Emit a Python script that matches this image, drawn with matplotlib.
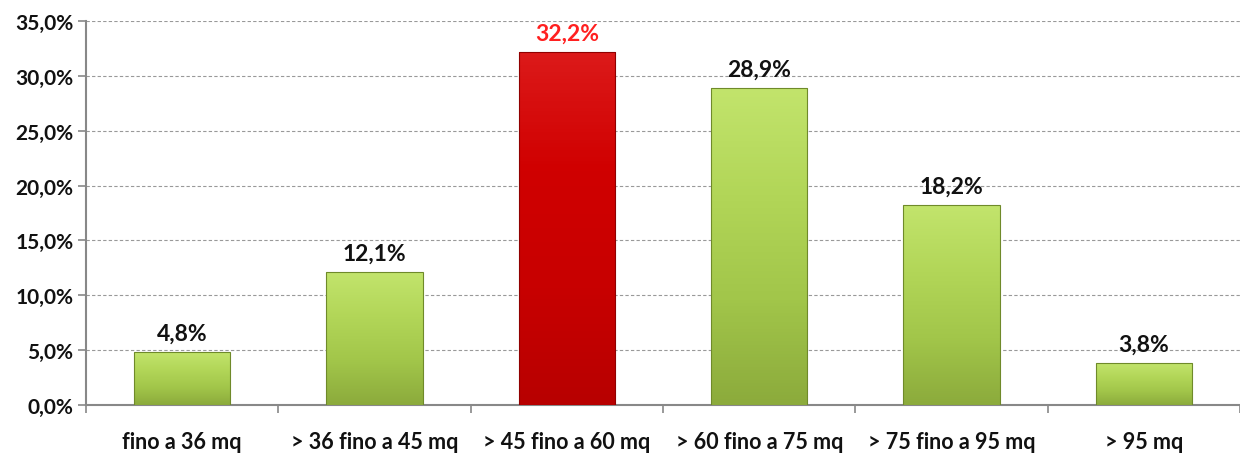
import numpy as np
import matplotlib.pyplot as plt
from matplotlib.colors import LinearSegmentedColormap

# Dati
categorie = ['fino a 36 mq', '> 36 fino a 45 mq', '> 45 fino a 60 mq',
             '> 60 fino a 75 mq', '> 75 fino a 95 mq', '> 95 mq']
valori = [4.8, 12.1, 32.2, 28.9, 18.2, 3.8]
evidenziata = [False, False, True, False, False, False]

plt.rcParams['font.family'] = ['Lato', 'DejaVu Sans']

fig = plt.figure(figsize=(12.4, 4.56), dpi=100)
ax = fig.add_axes([0.0694, 0.1096, 0.9306, 0.8424])

verde = LinearSegmentedColormap.from_list('verde', ['#8cab3c', '#a2c64a', '#b2d658', '#c2e46c'])
rosso = LinearSegmentedColormap.from_list('rosso', ['#b80000', '#c80000', '#d00000', '#dc1a1a'])

x = np.arange(len(categorie))
barre = ax.bar(x, valori, width=0.5, color='none', edgecolor='none', zorder=3)

# Riempimento sfumato delle barre
grad = np.linspace(0, 1, 100).reshape(-1, 1)
for b, ev in zip(barre, evidenziata):
    x0, w, h = b.get_x(), b.get_width(), b.get_height()
    img = ax.imshow(grad, cmap=rosso if ev else verde, aspect='auto', origin='lower',
                    extent=[x0, x0 + w, 0, h], zorder=3)
    img.set_clip_path(b)
    ax.add_patch(plt.Rectangle((x0, 0), w, h, fill=False,
                               edgecolor='#900000' if ev else '#6f8a2a', lw=0.8, zorder=4))

# Etichette dei valori
for xi, v, ev in zip(x, valori, evidenziata):
    ax.annotate(f'{v:.1f}%'.replace('.', ','), (xi, v), xytext=(0, 6),
                textcoords='offset points', ha='center', va='bottom',
                fontsize=16.5, fontweight='bold', color='#ff2020' if ev else '#111111')

ax.set_xlim(-0.5, len(categorie) - 0.5)
ax.set_ylim(0, 35)
ax.set_yticks(np.arange(0, 36, 5))
ax.set_yticklabels([f'{t:.1f}%'.replace('.', ',') for t in np.arange(0, 36, 5)],
                   fontsize=15, fontweight='bold', color='#111111')

ax.set_xticks(x)
ax.set_xticklabels(categorie, fontsize=15.5, fontweight='bold', color='#111111')
ax.set_xticks(np.arange(-0.5, len(categorie), 1), minor=True)
ax.tick_params(axis='x', which='major', length=0, pad=19)
ax.tick_params(axis='x', which='minor', length=6, color='#888888', width=1.2)
ax.tick_params(axis='y', length=6, color='#888888', width=1.2, pad=3)

ax.yaxis.grid(True, linestyle=(0, (3, 2)), color='#999999', lw=0.8, zorder=0)
ax.set_axisbelow(True)

for s in ['top', 'right']:
    ax.spines[s].set_visible(False)
for s in ['left', 'bottom']:
    ax.spines[s].set_color('#888888')
    ax.spines[s].set_linewidth(1.5)

fig.savefig('out.png', dpi=100)
